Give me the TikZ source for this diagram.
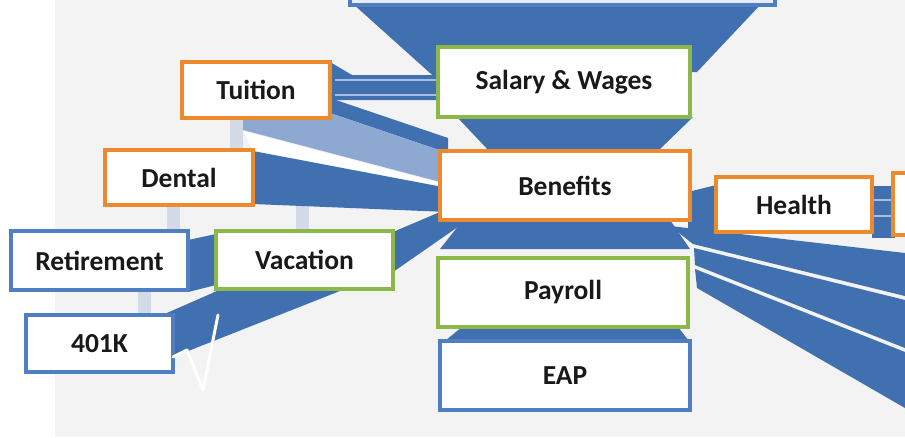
\documentclass[tikz,border=0pt]{standalone}
\usepackage{fontspec}
\setmainfont{Carlito}
\definecolor{bandblue}{HTML}{4170B0}
\definecolor{bandlight}{HTML}{8DA8D1}
\definecolor{stripe}{HTML}{A9BEDF}
\definecolor{pale}{HTML}{D3DBE6}
\definecolor{bgray}{HTML}{F3F3F3}
\definecolor{borange}{HTML}{EE8A2E}
\definecolor{bgreen}{HTML}{8CB84A}
\definecolor{bblue}{HTML}{4F7FC2}
\definecolor{topfill}{HTML}{E6EDF7}
\tikzset{
  box/.style={draw, line width=3.5pt, fill=white, inner sep=0pt,
    font=\bfseries\fontsize{27.5}{31}\selectfont, text=black!90},
  obox/.style={box, draw=borange},
  gbox/.style={box, draw=bgreen},
  blbox/.style={box, draw=bblue},
  band/.style={fill=bandblue},
  lband/.style={fill=bandlight},
  paleconn/.style={fill=pale},
}
\begin{document}
\begin{tikzpicture}[x=1pt,y=-1pt]
\useasboundingbox (0,0) rectangle (905,437);
\clip (0,0) rectangle (905,437);
\fill[white] (0,0) rectangle (905,437);
\fill[bgray] (55,0) rectangle (905,437);
% pale vertical connectors
\fill[paleconn] (230,118) rectangle (243,150);
\fill[paleconn] (167,205) rectangle (180,231);
\fill[paleconn] (296,205) rectangle (309,231);
\fill[paleconn] (138,290) rectangle (151,315);
% blue bands
\fill[band] (352,3) -- (762,3) -- (697,72) -- (440,82) -- cycle;
\fill[band] (457,117) -- (693,117) -- (657,152) -- (490,152) -- cycle;
\fill[band] (463,220) -- (670,220) -- (690,249) -- (440,249) -- cycle;
\fill[band] (462,327) -- (678,327) -- (692,345) -- (440,345) -- cycle;
% Tuition bands
\fill[band] (330,62) -- (352,75) -- (440,75) -- (440,100) -- (330,100) -- cycle;
\draw[stripe, line width=2pt] (335,80) -- (440,80);
\draw[stripe, line width=2pt] (335,95) -- (440,95);
\fill[band] (330,98) -- (448,138) -- (448,153) -- (330,113) -- cycle;
\fill[lband] (243,118) -- (330,118) -- (330,113) -- (448,153) -- (448,184) -- (243,130) -- cycle;
\fill[white] (243,131) -- (448,185) -- (448,188) -- (253,151) -- cycle;
\fill[band] (253,151) -- (448,188) -- (448,212) -- (253,204) -- cycle;
% lower left bands
\fill[band] (393,232) -- (440,212) -- (465,222) -- (393,272) -- cycle;
\fill[band] (188,240) -- (216,234) -- (216,285) -- (188,292) -- cycle;
\fill[band] (160,316) -- (217,291) -- (345,289) -- (173,357) -- cycle;
% right bands
\fill[band] (688,192) -- (716,185) -- (716,232) -- (688,232) -- cycle;
\fill[band] (872,186) rectangle (895,238);
\draw[stripe, line width=1.5pt] (872,200) -- (895,200);
\draw[stripe, line width=1.5pt] (872,216) -- (895,216);
\fill[band] (670,226) -- (905,253) -- (905,296) -- (693,244) -- cycle;
\fill[band] (694,248) -- (905,300) -- (905,348) -- (695,265) -- cycle;
\fill[band] (695,269) -- (905,352) -- (905,408) -- (697,288) -- cycle;
% boxes
\node[blbox, fill=topfill, minimum width=425pt, minimum height=40pt] (top) at (562.5,-15) {};
\node[obox, minimum width=148pt, minimum height=56pt] (tuition) at (256,90) {Tuition};
\node[gbox, minimum width=252pt, minimum height=70pt] (salary) at (564,82) {Salary \& Wages};
\node[obox, minimum width=148pt, minimum height=55pt] (dental) at (179,177.5) {Dental};
\node[obox, minimum width=250pt, minimum height=69pt] (benefits) at (565,185.5) {Benefits};
\node[obox, minimum width=156pt, minimum height=55pt] (health) at (794,204.5) {Health};
\node[obox, minimum width=66pt, minimum height=62pt] (rightbox) at (926,204) {};
\node[blbox, minimum width=177pt, minimum height=59pt] (retirement) at (99.5,260.5) {Retirement};
\node[gbox, minimum width=177pt, minimum height=58pt] (vacation) at (304.5,260) {Vacation};
\node[gbox, minimum width=250pt, minimum height=69pt] (payroll) at (563,292.5) {Payroll};
\node[blbox, minimum width=147pt, minimum height=57pt] (k401) at (99.5,343.5) {401K};
\node[blbox, minimum width=250pt, minimum height=69pt] (eap) at (565,375.5) {EAP};
% white check stroke
\draw[white, line width=3pt, line join=round, line cap=round] (173,357) -- (187,350) -- (203,390) -- (218,315);
\end{tikzpicture}
\end{document}
